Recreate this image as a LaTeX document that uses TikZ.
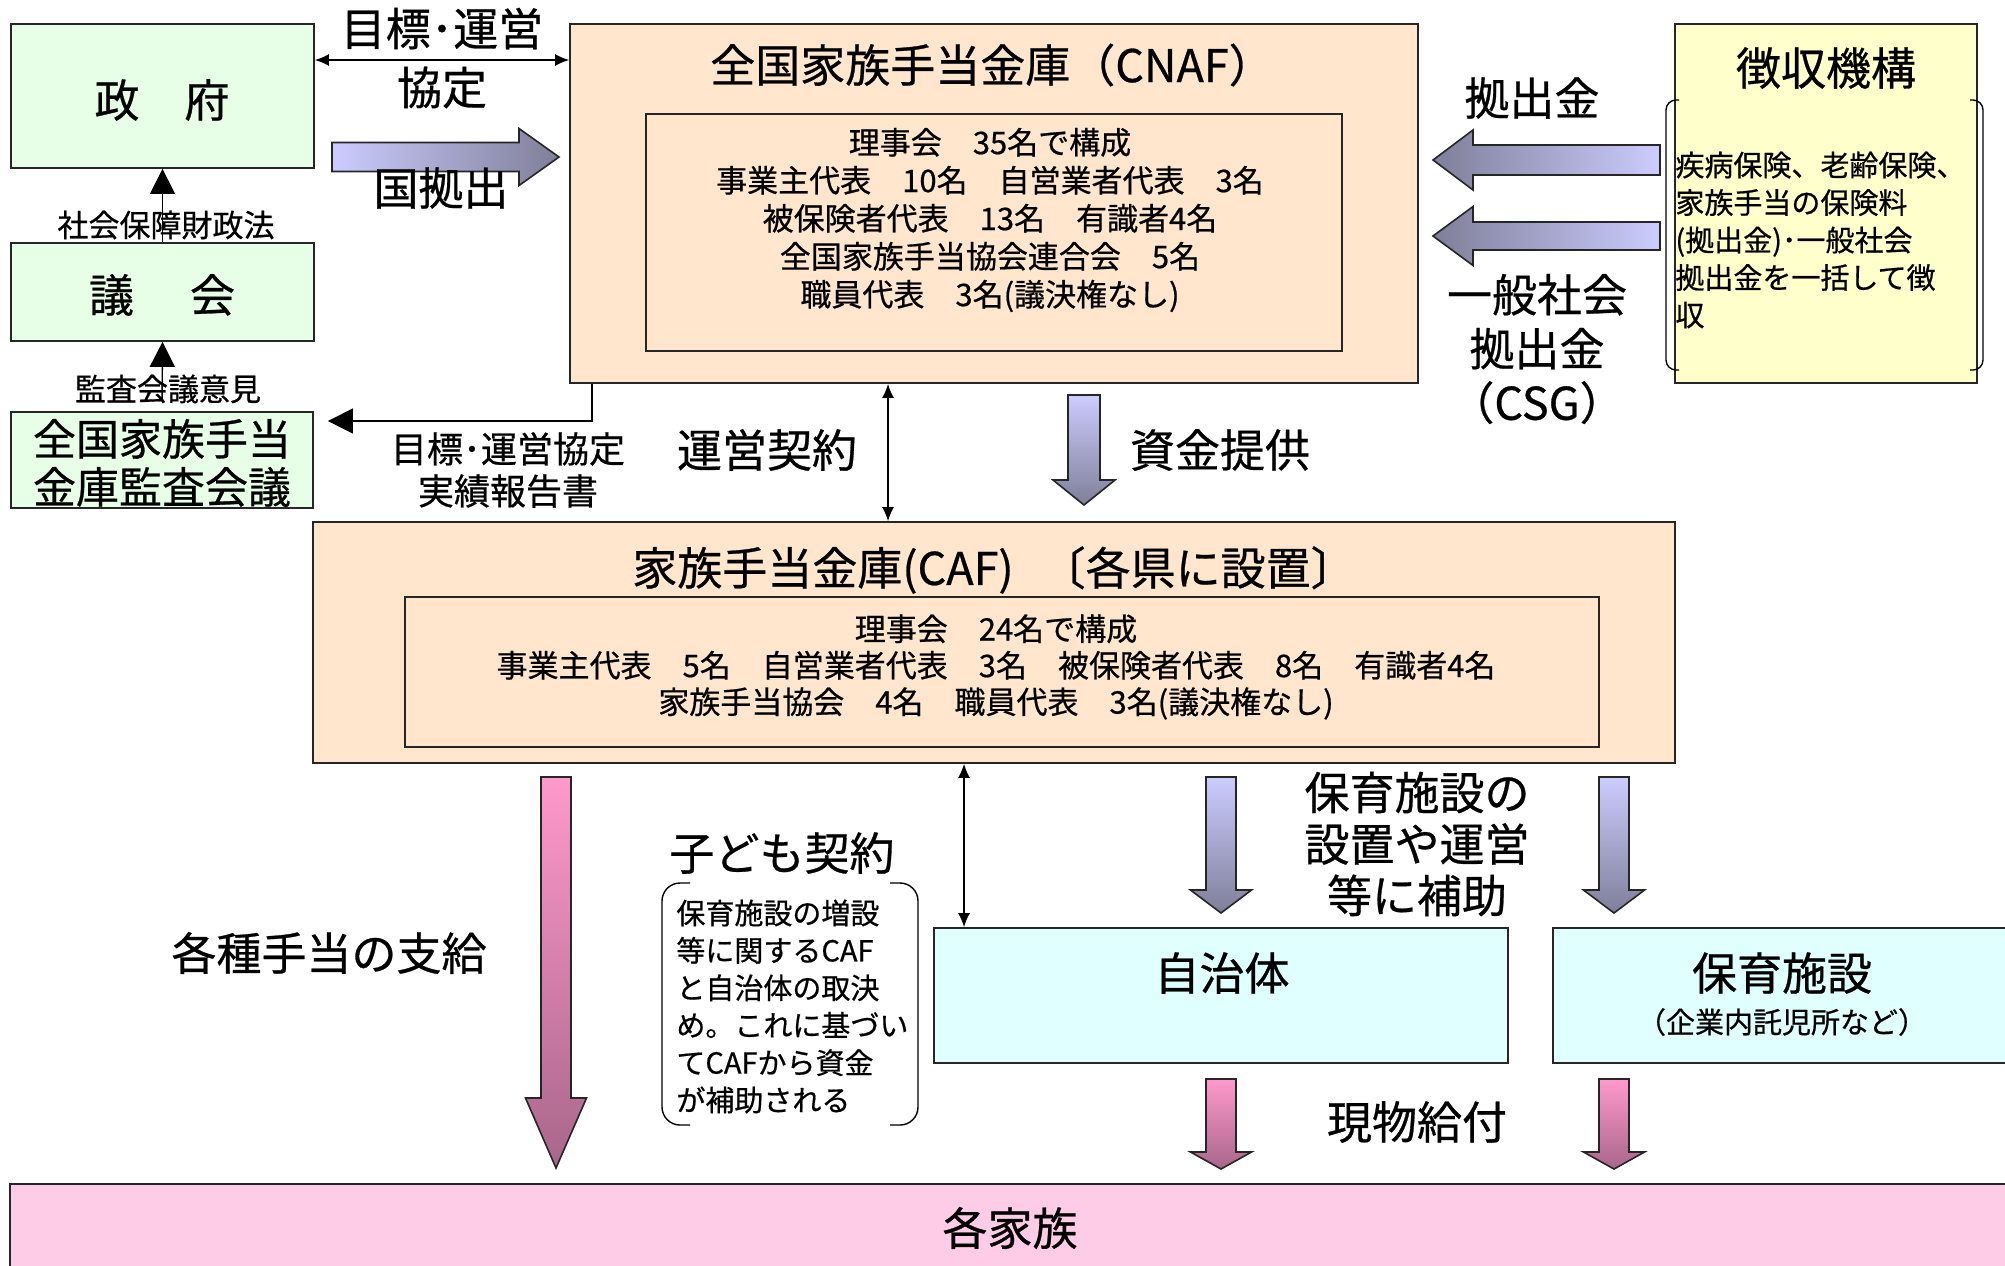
\documentclass[tikz,border=0pt]{standalone}
\usepackage{fontspec}
\setmainfont{Noto Sans CJK JP}[FakeBold=0.6]
\usepackage{tikz}
\usetikzlibrary{arrows.meta}

\definecolor{govgreen}{HTML}{E6FFE6}
\definecolor{cafpeach}{HTML}{FFE6CC}
\definecolor{colyellow}{HTML}{FFFFCC}
\definecolor{loccyan}{HTML}{E0FFFF}
\definecolor{fampink}{HTML}{FFCCE8}
\definecolor{lavlight}{HTML}{CCCCFF}
\definecolor{lavdark}{HTML}{7F7F99}
\definecolor{pinklight}{HTML}{FF99CC}
\definecolor{pinkdark}{HTML}{A8668A}

\begin{document}
\begin{tikzpicture}[x=0.5pt,y=-0.5pt,
    box/.style={draw=black!85,line width=0.9pt,inner sep=0pt},
    big/.style={font=\fontsize{22.5}{27}\selectfont,inner sep=0pt},
    mid/.style={font=\fontsize{18}{21}\selectfont,inner sep=0pt},
    small/.style={font=\fontsize{15.5}{19}\selectfont,inner sep=0pt},
    tiny/.style={font=\fontsize{14.5}{18.75}\selectfont,inner sep=0pt},
    dbl/.style={{Latex[length=7pt,width=6pt]}-{Latex[length=7pt,width=6pt]},line width=0.7pt},
    upto/.style={-{Triangle[length=12.5pt,width=12.5pt]},line width=0.7pt},
    block/.style={draw=black!85,line width=0.8pt},
    bracket/.style={line width=0.7pt,rounded corners=5pt}]
  \useasboundingbox (0,0) rectangle (2005,1265);

  % boxes
  \node[box,fill=govgreen,minimum width=151.5pt,minimum height=72pt] (gov) at (162.5,96) {};
  \node[box,fill=govgreen,minimum width=151.5pt,minimum height=49pt] (parl) at (162.5,292) {};
  \node[box,fill=govgreen,minimum width=151pt,minimum height=48pt] (audit) at (162,460) {};
  \node[box,fill=cafpeach,minimum width=424pt,minimum height=179.5pt] (cnaf) at (994,203.5) {};
  \node[box,minimum width=348pt,minimum height=118.5pt] (cnafin) at (994,232.5) {};
  \node[box,fill=colyellow,minimum width=151pt,minimum height=179.5pt] (coll) at (1826,203.5) {};
  \node[box,fill=cafpeach,minimum width=681pt,minimum height=120.5pt] (caf) at (994,642.5) {};
  \node[box,minimum width=597pt,minimum height=75pt] (cafin) at (1002,672) {};
  \node[box,fill=loccyan,minimum width=287pt,minimum height=67.5pt] (local) at (1221,995.5) {};
  \node[box,fill=loccyan,minimum width=231pt,minimum height=67.5pt] (creche) at (1784,995.5) {};
  \node[box,fill=fampink,minimum width=1002.5pt,minimum height=50.5pt] (family) at (1012.5,1234.5) {};

  % block arrows
  \shadedraw[block,left color=lavlight,right color=lavdark] (332,142.5) -- (519,142.5) -- (519,128.5) -- (559,157) -- (519,185.5) -- (519,171.5) -- (332,171.5) -- cycle;
  \shadedraw[block,left color=lavdark,right color=lavlight] (1660,145) -- (1473,145) -- (1473,130) -- (1433,160) -- (1473,190) -- (1473,175) -- (1660,175) -- cycle;
  \shadedraw[block,left color=lavdark,right color=lavlight] (1660,222) -- (1473,222) -- (1473,206.5) -- (1433,236) -- (1473,265.5) -- (1473,250) -- (1660,250) -- cycle;
  \shadedraw[block,top color=lavlight,bottom color=lavdark] (1068,395) -- (1068,480) -- (1053,480) -- (1084,505) -- (1115,480) -- (1100,480) -- (1100,395) -- cycle;
  \shadedraw[block,top color=lavlight,bottom color=lavdark] (1206,777) -- (1206,890) -- (1190.5,890) -- (1221,913) -- (1251.5,890) -- (1236,890) -- (1236,777) -- cycle;
  \shadedraw[block,top color=lavlight,bottom color=lavdark] (1599,777) -- (1599,890) -- (1583.5,890) -- (1614,913) -- (1644.5,890) -- (1629,890) -- (1629,777) -- cycle;
  \shadedraw[block,top color=pinklight,bottom color=pinkdark] (541,777) -- (541,1098) -- (525.5,1098) -- (556,1168) -- (586.5,1098) -- (571,1098) -- (571,777) -- cycle;
  \shadedraw[block,top color=pinklight,bottom color=pinkdark] (1206,1079) -- (1206,1152) -- (1190.5,1152) -- (1221,1169) -- (1251.5,1152) -- (1236,1152) -- (1236,1079) -- cycle;
  \shadedraw[block,top color=pinklight,bottom color=pinkdark] (1599,1079) -- (1599,1152) -- (1583.5,1152) -- (1614,1169) -- (1644.5,1152) -- (1629,1152) -- (1629,1079) -- cycle;

  % texts in boxes
  \node[big] (govt) at (162,100) {政　府};
  \node[big] (parlt) at (162,295) {議\hspace{28pt}会};
  \node[big,align=center,font=\fontsize{21.5}{24}\selectfont] (auditt) at (162,463) {全国家族手当\\金庫監査会議};
  \node[big] (cnaft) at (992,65) {全国家族手当金庫（CNAF）};
  \node[small,align=center] (cnafint) at (990,220) {理事会　35名で構成\\事業主代表　10名　自営業者代表　3名\\被保険者代表　13名　有識者4名\\全国家族手当協会連合会　5名\\職員代表　3名(議決権なし)};
  \node[big] (collt) at (1826,68) {徴収機構};
  \node[tiny,align=left,anchor=west] (collint) at (1675,240) {疾病保険、老齢保険、\\家族手当の保険料\\(拠出金)･一般社会\\拠出金を一括して徴\\収};
  \node[big] (caft) at (994,570) {家族手当金庫(CAF)\hspace{0.6em}〔各県に設置〕};
  \node[small,align=center,font=\fontsize{15.5}{18.25}\selectfont] (cafint) at (996,667) {理事会　24名で構成\\事業主代表　5名　自営業者代表　3名　被保険者代表　8名　有識者4名\\家族手当協会　4名　職員代表　3名(議決権なし)};
  \node[big] (localt) at (1222,973) {自治体};
  \node[big] (crechet) at (1782,973) {保育施設};
  \node[tiny] (crechesub) at (1782,1022) {（企業内託児所など）};
  \node[big] (familyt) at (1010,1228) {各家族};

  % labels
  \node[big] (kokut) at (441,188) {国拠出};
  \node[big] (kyot) at (1532,98) {拠出金};
  \node[big,align=center,font=\fontsize{22.5}{27}\selectfont] (csgt) at (1537,349) {一般社会\\拠出金\\（CSG）};
  \node[mid,align=center] (reportt) at (508,470) {目標･運営協定\\実績報告書};
  \node[big] (unei) at (767,450) {運営契約};
  \node[big] (shikin) at (1220,450) {資金提供};
  \node[big] (kodomo) at (782,853) {子ども契約};
  \node[small,align=left,anchor=west,font=\fontsize{14.5}{18.7}\selectfont] (kodomot) at (676,1006.5) {保育施設の増設\\等に関するCAF\\と自治体の取決\\め。これに基づい\\てCAFから資金\\が補助される};
  \node[big,align=center,font=\fontsize{22.5}{25.75}\selectfont] (hojo) at (1417,844) {保育施設の\\設置や運営\\等に補助};
  \node[big] (genbutsu) at (1417,1122) {現物給付};
  \node[big] (teate) at (329,953) {各種手当の支給};
  \node[small] (lawt) at (166,225) {社会保障財政法};
  \node[small] (opint) at (168,389) {監査会議意見};

  % brackets
  \draw[bracket] (1679,100) -- (1666,100) -- (1666,370) -- (1679,370);
  \draw[bracket] (1970,100) -- (1983,100) -- (1983,370) -- (1970,370);
  \draw[bracket,rounded corners=9pt] (690,883) -- (662,883) -- (662,1125) -- (690,1125);
  \draw[bracket,rounded corners=9pt] (890,883) -- (918,883) -- (918,1125) -- (890,1125);

  % connectors
  \coordinate (ret) at (592,421);
  \coordinate (kx) at (888,450);
  \coordinate (cx) at (964,850);
  \draw[dbl] ([yshift=18pt]gov.east) -- node[big,above=5pt] (mokuhyo) {目標･運営} node[big,below=3pt] (kyotei) {協定} ([yshift=18pt]gov.east -| cnaf.west);
  \draw[upto] (parl.north) -- (gov.south);
  \draw[upto,shorten <=5pt] (audit.north) -- (parl.south);
  \draw[upto,shorten >=7pt] (ret |- cnaf.south) |- (audit.east |- ret);
  \draw[dbl] (kx |- cnaf.south) -- (kx |- caf.north);
  \draw[dbl] (cx |- caf.south) -- (cx |- local.north);
\end{tikzpicture}
\end{document}
